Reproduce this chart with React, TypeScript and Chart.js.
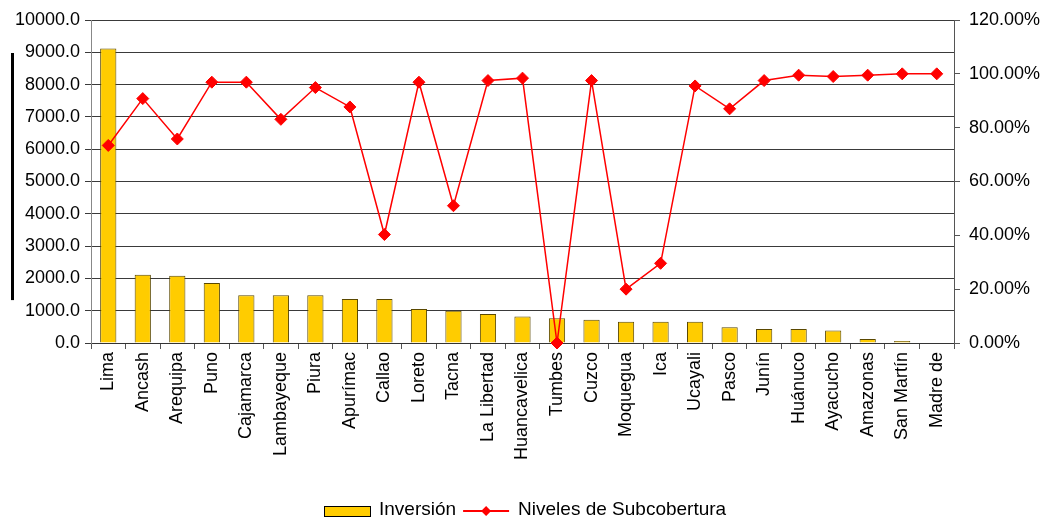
import React, { useEffect, useRef } from "react";
import { Chart, registerables } from "chart.js";

Chart.register(...registerables);

const categories = [
  "Lima", "Ancash", "Arequipa", "Puno", "Cajamarca", "Lambayeque", "Piura", "Apurímac",
  "Callao", "Loreto", "Tacna", "La Libertad", "Huancavelica", "Tumbes", "Cuzco", "Moquegua",
  "Ica", "Ucayali", "Pasco", "Junín", "Huánuco", "Ayacucho", "Amazonas", "San Martín", "Madre de",
];

const inversion = [
  9120, 2110, 2080, 1860, 1480, 1480, 1480, 1360, 1360, 1050, 1000, 900, 820, 770, 720, 660,
  660, 660, 490, 430, 430, 390, 120, 60, 0,
];

const subcobertura = [
  73.4, 90.8, 75.8, 96.9, 96.9, 83.1, 94.9, 87.7, 40.3, 96.9, 51.0, 97.5, 98.4, 0, 97.5, 20.0,
  29.6, 95.5, 87.0, 97.5, 99.5, 99.0, 99.5, 100.0, 100.0,
];

const seriesNames = ["Inversión", "Niveles de Subcobertura"];

const FONT = '"Liberation Sans", Arial, sans-serif';
const BAR_FILL = "#ffcc00";
const BAR_EDGE = "#5a4800";
const LINE_RED = "#ff0000";

const legendPlugin = {
  id: "customLegend",
  afterDraw(chart: any) {
    const ctx = chart.ctx;
    ctx.save();
    ctx.font = `19px ${FONT}`;
    ctx.textBaseline = "middle";
    ctx.fillStyle = "#000";
    const iconW = 46;
    const gapText = 9;
    const gapItem = 7;
    const w1 = ctx.measureText(seriesNames[0]).width;
    const w2 = ctx.measureText(seriesNames[1]).width;
    const total = iconW + gapText + w1 + gapItem + iconW + gapText + w2;
    const cx = (chart.chartArea.left + chart.chartArea.right) / 2 + 3;
    let x = Math.round(cx - total / 2);
    const cy = chart.height - 10;
    // bar icon
    ctx.fillStyle = BAR_FILL;
    ctx.fillRect(x + 0.5, cy - 4.5, iconW, 10);
    ctx.strokeStyle = "#000";
    ctx.lineWidth = 1;
    ctx.strokeRect(x + 0.5, cy - 4.5, iconW, 10);
    x += iconW + gapText;
    ctx.fillStyle = "#000";
    ctx.fillText(seriesNames[0], x, cy - 1);
    x += w1 + gapItem;
    // line icon
    ctx.strokeStyle = LINE_RED;
    ctx.lineWidth = 2;
    ctx.beginPath();
    ctx.moveTo(x, cy);
    ctx.lineTo(x + iconW, cy);
    ctx.stroke();
    ctx.fillStyle = LINE_RED;
    const mx = x + iconW / 2;
    ctx.beginPath();
    ctx.moveTo(mx, cy - 5);
    ctx.lineTo(mx + 5, cy);
    ctx.lineTo(mx, cy + 5);
    ctx.lineTo(mx - 5, cy);
    ctx.closePath();
    ctx.fill();
    x += iconW + gapText;
    ctx.fillStyle = "#000";
    ctx.fillText(seriesNames[1], x, cy - 1);
    // vertical dark bar at far left (axis title remnant)
    ctx.fillStyle = "#000";
    const a = chart.chartArea;
    ctx.fillRect(11, a.top + 33, 3, (a.bottom - a.top) * 0.765);
    ctx.restore();
  },
};

export default function App() {
  const ref = useRef<HTMLCanvasElement | null>(null);

  useEffect(() => {
    document.body.style.margin = "0";
    const canvas = ref.current;
    if (!canvas) return;
    Chart.defaults.font.family = FONT;
    Chart.defaults.font.size = 18;
    Chart.defaults.color = "#000";

    const chart = new Chart(canvas, {
      type: "bar",
      data: {
        labels: categories,
        datasets: [
          {
            type: "line",
            label: seriesNames[1],
            data: subcobertura,
            yAxisID: "y1",
            borderColor: LINE_RED,
            backgroundColor: LINE_RED,
            borderWidth: 1.5,
            pointStyle: "rectRot",
            pointRadius: 6,
            pointBorderWidth: 1,
            pointBackgroundColor: LINE_RED,
            pointBorderColor: LINE_RED,
            tension: 0,
            clip: false as any,
            order: 0,
          } as any,
          {
            type: "bar",
            label: seriesNames[0],
            data: inversion,
            yAxisID: "y",
            backgroundColor: BAR_FILL,
            borderColor: BAR_EDGE,
            borderWidth: 1,
            barPercentage: 0.47,
            categoryPercentage: 1,
            order: 1,
          } as any,
        ],
      },
      options: {
        animation: false,
        responsive: true,
        maintainAspectRatio: false,
        layout: { padding: { top: 20, left: 0, right: 0, bottom: 0 } },
        plugins: {
          legend: { display: false },
          tooltip: { enabled: false },
          title: { display: false },
        },
        scales: {
          x: {
            offset: true,
            grid: {
              display: true,
              offset: true,
              drawOnChartArea: false,
              drawTicks: true,
              tickLength: 6,
              color: "#555",
            },
            border: { display: true, color: "#333" },
            ticks: {
              autoSkip: false,
              maxRotation: 90,
              minRotation: 90,
              padding: 3,
              color: "#000",
              font: { size: 18, family: FONT },
            },
            afterFit(scale: any) {
              scale.height = 178;
            },
          },
          y: {
            position: "left",
            min: 0,
            max: 10000,
            ticks: {
              stepSize: 1000,
              padding: 5,
              color: "#000",
              font: { size: 18, family: FONT },
              callback: (v: any) => Number(v).toFixed(1),
            },
            grid: { color: "#3a3a3a", tickLength: 6, drawTicks: true },
            border: { display: true, color: "#888" },
            afterFit(scale: any) {
              scale.width = 91;
            },
          },
          y1: {
            position: "right",
            min: 0,
            max: 120,
            ticks: {
              stepSize: 20,
              padding: 9,
              color: "#000",
              font: { size: 18, family: FONT },
              callback: (v: any) => Number(v).toFixed(2) + "%",
            },
            grid: { drawOnChartArea: false, drawTicks: true, tickLength: 6, color: "#555" },
            border: { display: true, color: "#555" },
            afterFit(scale: any) {
              scale.width = 104;
            },
          },
        },
      },
      plugins: [legendPlugin],
    });
    return () => chart.destroy();
  }, []);

  return (
    <div style={{ width: 1058, height: 521, position: "relative" }}>
      <canvas ref={ref} />
    </div>
  );
}
